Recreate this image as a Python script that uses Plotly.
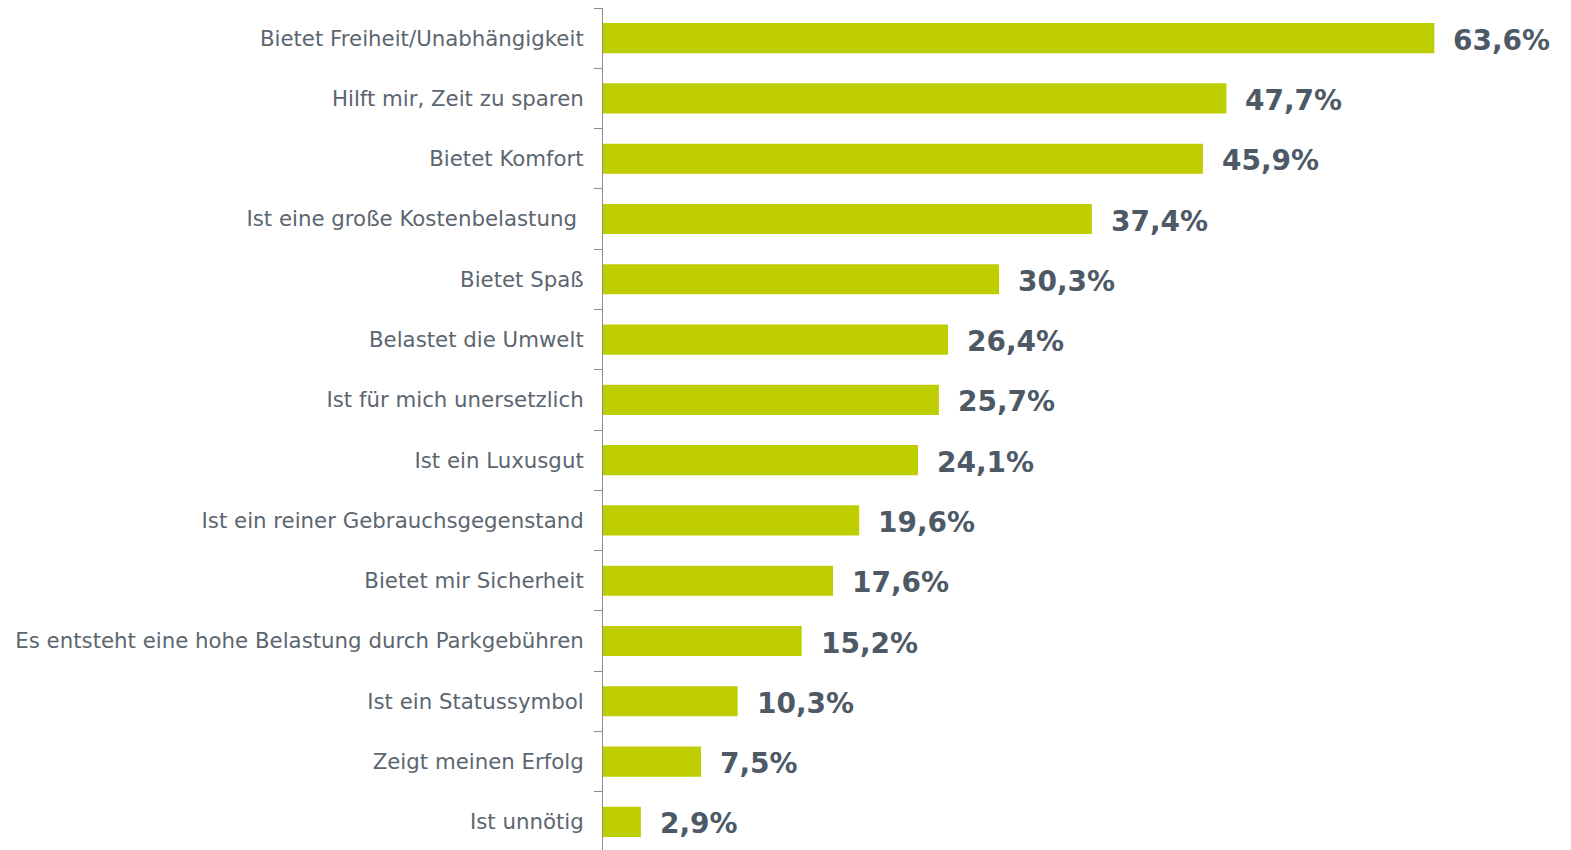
import plotly.graph_objects as go

categories = [
    "Bietet Freiheit/Unabhängigkeit",
    "Hilft mir, Zeit zu sparen",
    "Bietet Komfort",
    "Ist eine große Kostenbelastung\u00a0",
    "Bietet Spaß",
    "Belastet die Umwelt",
    "Ist für mich unersetzlich",
    "Ist ein Luxusgut",
    "Ist ein reiner Gebrauchsgegenstand",
    "Bietet mir Sicherheit",
    "Es entsteht eine hohe Belastung durch Parkgebühren",
    "Ist ein Statussymbol",
    "Zeigt meinen Erfolg",
    "Ist unnötig",
]
values = [63.6, 47.7, 45.9, 37.4, 30.3, 26.4, 25.7, 24.1, 19.6, 17.6, 15.2, 10.3, 7.5, 2.9]
value_labels = [f"{v:.1f}%".replace(".", ",") for v in values]

fig = go.Figure()
fig.add_trace(go.Bar(
    x=values, y=categories, orientation="h",
    marker=dict(color="#bfce00", line=dict(width=0)),
    hoverinfo="skip",
))

for c, v, t in zip(categories, values, value_labels):
    fig.add_annotation(
        x=v, y=c, text=t, showarrow=False, xanchor="left", yanchor="middle",
        xshift=17, yshift=-2,
        font=dict(family="DejaVu Sans", size=28, color="#4d5a66", weight="bold"),
    )

fig.update_layout(
    width=1571, height=852,
    margin=dict(l=603, r=0, t=8, b=0, autoexpand=False),
    paper_bgcolor="white", plot_bgcolor="white",
    bargap=0.5, showlegend=False,
    xaxis=dict(range=[0, 74.06], visible=False, fixedrange=True, automargin=False),
    yaxis=dict(
        autorange="reversed",
        type="category",
        automargin=False,
        fixedrange=True,
        showline=True, linecolor="#8c8c8c", linewidth=1,
        ticks="outside", tickson="boundaries", ticklen=8, tickcolor="#8c8c8c",
        tickfont=dict(family="DejaVu Sans", size=21.3, color="#5b6670"),
        ticklabelstandoff=14,
        showgrid=False, zeroline=False,
    ),
)

fig.write_html(
    "out.html",
    config={"displayModeBar": False},
    post_script=(
        "document.body.style.margin='0';document.body.style.padding='0';"
        "document.body.style.overflow='hidden';"
        "document.documentElement.style.overflow='hidden';"
    ),
)
